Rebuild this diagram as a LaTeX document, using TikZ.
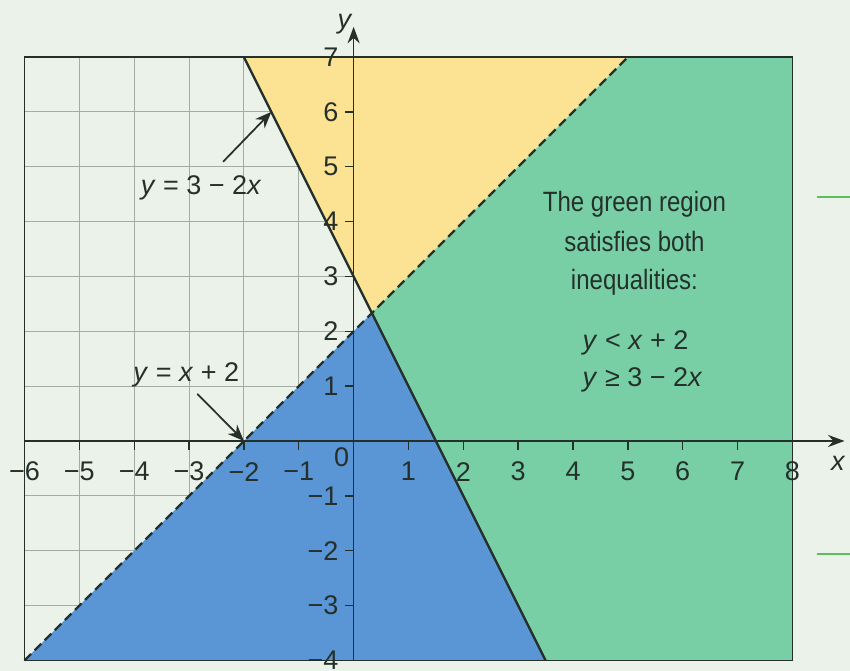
\documentclass[tikz,border=0pt]{standalone}
\usepackage{fontspec}
\setmainfont{Liberation Sans}
\newfontfamily\condfont{Liberation Sans}[FakeStretch=0.86]
\usetikzlibrary{arrows.meta}
\definecolor{bgc}{HTML}{EAF2E9}
\definecolor{gridc}{HTML}{A3ACA4}
\definecolor{yelc}{HTML}{FCE293}
\definecolor{grnc}{HTML}{78CFA6}
\definecolor{bluc}{HTML}{5A95D6}
\definecolor{inkc}{HTML}{25302B}
\definecolor{sidec}{HTML}{5CBF5C}
\tikzset{
  axisline/.style={inkc, line width=0.9pt, -{Stealth[length=3mm,width=2.2mm]}},
  tickmark/.style={inkc, line width=0.7pt},
  ticklab/.style={inkc, inner sep=0pt, font=\fontsize{14}{17}\selectfont},
  bodytext/.style={inkc, inner sep=0pt, anchor=base, font=\condfont\fontsize{14.5}{17}\selectfont},
  ineqtext/.style={inkc, inner sep=0pt, anchor=base west, font=\fontsize{14}{17}\selectfont},
  pointer/.style={inkc, line width=0.9pt, -{Stealth[length=3mm,width=2.4mm]}},
}
\begin{document}
\begin{tikzpicture}[x=1cm,y=1cm]
\fill[bgc] (-6.447,-4.193) rectangle (9.05,8.04);
\useasboundingbox (-6.447,-4.193) rectangle (9.05,8.04);
% grid
\draw[gridc, line width=0.55pt] (-6,-4) grid (8,7);
% key points
\coordinate (P) at (1/3,7/3);
\coordinate (A) at (-2,7);
\coordinate (B) at (5,7);
\coordinate (C) at (8,7);
\coordinate (D) at (8,-4);
\coordinate (E) at (3.5,-4);
\coordinate (F) at (-6,-4);
% regions
\fill[yelc] (P) -- (A) -- (B) -- cycle;
\fill[grnc] (P) -- (B) -- (C) -- (D) -- (E) -- cycle;
\fill[bluc] (F) -- (P) -- (E) -- cycle;
% frame
\draw[inkc, line width=0.8pt] (-6,-4) rectangle (8,7);
% boundary lines
\draw[inkc, line width=1.2pt] (A) -- (E);
\draw[inkc, line width=1.2pt, dash pattern=on 4.8pt off 2.6pt] (F) -- (B);
% axes
\coordinate (xs) at (-6,0);
\coordinate (xe) at (8.95,0);
\coordinate (ys) at (0,-4);
\coordinate (ye) at (0,7.55);
\draw[axisline] (xs) -- (xe);
\draw[axisline] (ys) -- (ye);
\node[inkc, font=\fontsize{14}{17}\selectfont\itshape] (xlab) at (8.83,-0.4) {x};
\node[inkc, font=\fontsize{14}{17}\selectfont\itshape] (ylab) at (-0.17,7.6) {y};
% x ticks
\foreach \x/\t in {-6/−6,-5/−5,-4/−4,-3/−3,-2/−2,-1/−1,1/1,2/2,3/3,4/4,5/5,6/6,7/7,8/8}{
  \draw[tickmark] (\x,0) -- (\x,-0.16);
  \node[ticklab] (xt\x) at (\x,-0.56) {\t};
}
\node[ticklab] (orig) at (-0.22,-0.3) {0};
% y ticks
\foreach \y/\t in {-4/−4,-3/−3,-2/−2,-1/−1,1/1,2/2,3/3,4/4,5/5,6/6,7/7}{
  \draw[tickmark] (0,\y) -- (-0.16,\y);
  \node[ticklab, anchor=east] (yt\y) at (-0.27,\y) {\t};
}
% labels with pointers
\node[inkc, font=\fontsize{14}{17}\selectfont] (lab1) at (-2.78,4.61) {\textit{y} = 3 − 2\textit{x}};
\coordinate (s1) at (-2.38,5.09);
\coordinate (t1) at (-1.5,6);
\draw[pointer] (s1) -- (t1);
\node[inkc, font=\fontsize{14}{17}\selectfont] (lab2) at (-3.05,1.2) {\textit{y} = \textit{x} + 2};
\coordinate (s2) at (-2.85,0.86);
\coordinate (t2) at (-2,0);
\draw[pointer] (s2) -- (t2);
% text block
\node[bodytext] (tx1) at (5.12,4.175) {The green region};
\node[bodytext] (tx2) at (5.12,3.446) {satisfies both};
\node[bodytext] (tx3) at (5.12,2.753) {inequalities:};
\node[ineqtext] (iq1) at (4.17,1.659) {\textit{y} < \textit{x} + 2};
\node[ineqtext] (iq2) at (4.17,0.985) {\textit{y} ≥ 3 − 2\textit{x}};
% side marks
\draw[sidec, line width=1.3pt] (8.45,4.45) -- (9.05,4.45);
\draw[sidec, line width=1.3pt] (8.45,-2.06) -- (9.05,-2.06);
\end{tikzpicture}
\end{document}
